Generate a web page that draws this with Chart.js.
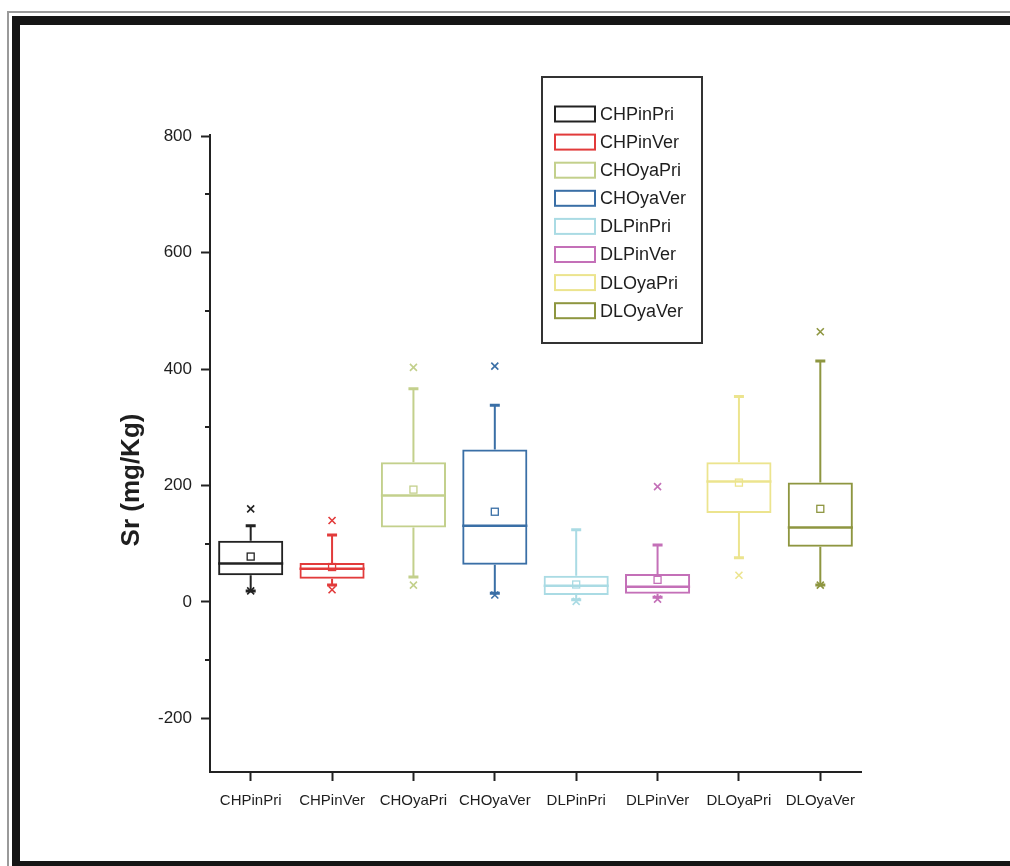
<!DOCTYPE html>
<html>
<head>
<meta charset="utf-8">
<script src="https://cdn.jsdelivr.net/npm/chart.js@4/dist/chart.umd.min.js"></script>
<style>
  html, body { margin: 0; padding: 0; background: #ffffff; overflow: hidden; }
  body { width: 1010px; height: 866px; position: relative; }
  #frameOuter {
    position: absolute; left: 7px; top: 11px; width: 1100px; height: 900px;
    border-left: 2px solid #9a9a9a; border-top: 2px solid #9a9a9a;
  }
  #frameInner {
    position: absolute; left: 12px; top: 16px; width: 1100px; height: 836px;
    border-style: solid; border-color: #151515; border-width: 9px 0 5px 8px;
  }
  #chart { position: absolute; left: 0; top: 0; }
</style>
</head>
<body>
<div id="frameOuter"></div>
<div id="frameInner"></div>
<canvas id="chart" width="1010" height="866"></canvas>
<script>
// Sample groups and box-plot statistics for Sr (mg/Kg)
const categories = ['CHPinPri', 'CHPinVer', 'CHOyaPri', 'CHOyaVer', 'DLPinPri', 'DLPinVer', 'DLOyaPri', 'DLOyaVer'];
const q1          = [46, 40, 128, 64, 12, 14, 153, 95];
const median      = [66, 57, 183, 131, 28, 26, 207, 128];
const q3          = [105, 67, 240, 262, 45, 48, 240, 205];
const whiskerLow  = [19, 29, 43, 15, 4, 8, 76, 29];
const whiskerHigh = [131, 115, 366, 338, 124, 98, 353, 414];
const means       = [78, 60, 193, 155, 30, 38, 205, 160];
const outHigh     = [160, 140, 403, 405, null, 198, null, 464];
const outLow      = [19, 21, 29, 12, 1, 5, 46, 29];
const colors      = ['#222222', '#e23b3b', '#c3d08c', '#3a6fa6', '#aadbe4', '#c470b8', '#ece48e', '#8e9640'];

const yMajorTicks = [-200, 0, 200, 400, 600, 800];
const yMinorTicks = [-100, 100, 300, 500, 700];
const yTitle = 'Sr (mg/Kg)';

// One floating-bar dataset per group: the box spans q1..q3
const datasets = categories.map((name, i) => ({
  label: name,
  data: categories.map((_, j) => (j === i ? [q1[i], q3[i]] : null)),
  borderColor: colors[i],
  backgroundColor: 'rgba(255,255,255,0)',
  borderWidth: 2,
  borderSkipped: false,
  grouped: false,
  categoryPercentage: 1,
  barPercentage: 0.8
}));

function drawCross(ctx, px, py, r) {
  ctx.beginPath();
  ctx.moveTo(px - r, py - r); ctx.lineTo(px + r, py + r);
  ctx.moveTo(px + r, py - r); ctx.lineTo(px - r, py + r);
  ctx.stroke();
}

// Whiskers, medians, means and extreme markers drawn on top of the boxes
const boxParts = {
  id: 'boxParts',
  afterDatasetsDraw(chart) {
    const { ctx, scales: { x, y } } = chart;
    ctx.save();
    categories.forEach((c, i) => {
      const bar = chart.getDatasetMeta(i).data[i];
      const cx = x.getPixelForValue(i);
      const half = bar.width / 2;
      ctx.strokeStyle = colors[i];
      ctx.fillStyle = colors[i];
      // whiskers
      ctx.lineWidth = 2;
      ctx.beginPath();
      ctx.moveTo(cx, y.getPixelForValue(q3[i])); ctx.lineTo(cx, y.getPixelForValue(whiskerHigh[i]));
      ctx.moveTo(cx, y.getPixelForValue(q1[i])); ctx.lineTo(cx, y.getPixelForValue(whiskerLow[i]));
      ctx.stroke();
      // caps
      ctx.lineWidth = 3;
      ctx.beginPath();
      [whiskerHigh[i], whiskerLow[i]].forEach(v => {
        const py = y.getPixelForValue(v);
        ctx.moveTo(cx - 5, py); ctx.lineTo(cx + 5, py);
      });
      ctx.stroke();
      // median
      ctx.lineWidth = 2.5;
      ctx.beginPath();
      const my = y.getPixelForValue(median[i]);
      ctx.moveTo(cx - half, my); ctx.lineTo(cx + half, my);
      ctx.stroke();
      // mean
      ctx.lineWidth = 1.3;
      const mpy = y.getPixelForValue(means[i]);
      ctx.strokeRect(cx - 3.5, mpy - 3.5, 7, 7);
      // extremes
      ctx.lineWidth = 1.6;
      if (outHigh[i] !== null) drawCross(ctx, cx, y.getPixelForValue(outHigh[i]), 3.5);
      if (outLow[i] !== null) drawCross(ctx, cx, y.getPixelForValue(outLow[i]), 3.5);
    });
    ctx.restore();
  },
  afterDraw(chart) {
    const { ctx, chartArea, scales: { y } } = chart;
    ctx.save();
    // minor ticks on the value axis
    ctx.strokeStyle = '#222222';
    ctx.lineWidth = 2;
    ctx.beginPath();
    yMinorTicks.forEach(v => {
      const py = Math.round(y.getPixelForValue(v));
      ctx.moveTo(chartArea.left - 5, py); ctx.lineTo(chartArea.left, py);
    });
    ctx.stroke();
    // axis title
    ctx.fillStyle = '#1e1e1e';
    ctx.font = 'bold 26px "Liberation Sans", Arial, sans-serif';
    ctx.textAlign = 'center';
    ctx.textBaseline = 'middle';
    ctx.translate(132, 480);
    ctx.rotate(-Math.PI / 2);
    ctx.fillText(yTitle, 0, 0);
    ctx.restore();

    // legend box
    ctx.save();
    const lx = 542, ly = 77, lw = 160, lh = 266;
    ctx.strokeStyle = '#333333';
    ctx.lineWidth = 2;
    ctx.strokeRect(lx, ly, lw, lh);
    ctx.font = '18px "Liberation Sans", Arial, sans-serif';
    ctx.textAlign = 'left';
    ctx.textBaseline = 'middle';
    chart.data.datasets.forEach((ds, i) => {
      const rowY = 114 + i * 28.1;
      ctx.strokeStyle = ds.borderColor;
      ctx.lineWidth = 2;
      ctx.strokeRect(555, rowY - 7.5, 40, 15);
      ctx.fillStyle = '#1e1e1e';
      ctx.fillText(ds.label, 600, rowY + 1);
    });
    ctx.restore();
  }
};

new Chart(document.getElementById('chart'), {
  type: 'bar',
  data: { labels: categories, datasets },
  options: {
    responsive: false,
    animation: false,
    devicePixelRatio: 1,
    layout: { padding: { top: 135, right: 149, bottom: 0, left: 0 } },
    plugins: { legend: { display: false }, tooltip: { enabled: false } },
    scales: {
      x: {
        offset: true,
        grid: { offset: false, drawOnChartArea: false, tickLength: 9, tickWidth: 2, tickColor: '#222222' },
        border: { display: true, color: '#222222', width: 2 },
        ticks: { color: '#1e1e1e', font: { family: '"Liberation Sans", Arial, sans-serif', size: 15 }, padding: 11, maxRotation: 0, autoSkip: false },
        afterFit(scale) { scale.height = 94; }
      },
      y: {
        min: -292,
        max: 802,
        grid: { drawOnChartArea: false, tickLength: 9, tickWidth: 2, tickColor: '#222222' },
        border: { display: true, color: '#222222', width: 2 },
        ticks: { color: '#1e1e1e', font: { family: '"Liberation Sans", Arial, sans-serif', size: 17 }, padding: 9 },
        afterBuildTicks(scale) { scale.ticks = yMajorTicks.map(v => ({ value: v })); },
        afterFit(scale) { scale.width = 210; }
      }
    }
  },
  plugins: [boxParts]
});
</script>
</body>
</html>
